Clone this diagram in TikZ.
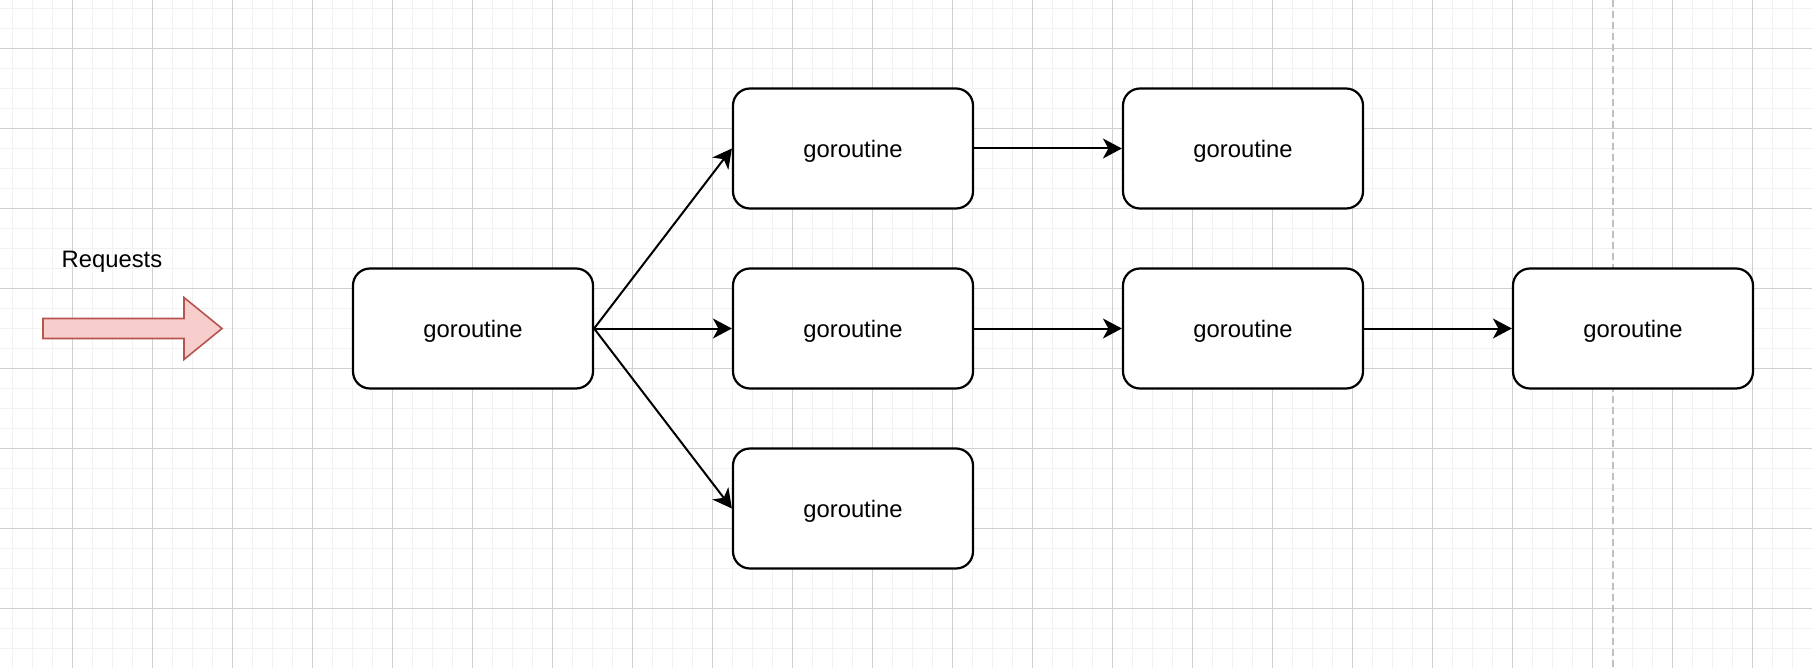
\documentclass[tikz,border=0pt]{standalone}
\usepackage{fontspec}
\setmainfont{Liberation Sans}
\usetikzlibrary{arrows.meta}
\definecolor{gridminor}{HTML}{F2F2F2}
\definecolor{gridmajor}{HTML}{D0D0D0}
\definecolor{dashgray}{HTML}{C0C0C0}
\definecolor{arrfill}{HTML}{F8CECC}
\definecolor{arrline}{HTML}{B85450}
\tikzset{
  gbox/.style={draw=black, fill=white, line width=2.2pt, rounded corners=17pt,
    minimum width=240pt, minimum height=120pt, inner sep=0pt,
    text height=20pt, text depth=2.4pt,
    font=\fontsize{23.8}{28}\selectfont},
  edge/.style={draw=black, line width=2pt, -{Stealth[length=19pt, width=20pt, inset=5.5pt]}},
  lbl/.style={font=\fontsize{23.8}{28}\selectfont, inner sep=0pt,
    text height=20pt, text depth=2pt}
}
\begin{document}
\begin{tikzpicture}[x=1pt, y=-1pt]
\useasboundingbox (0,0) rectangle (1812,668);
\fill[white] (0,0) rectangle (1812,668);
% minor grid
\foreach \gx in {12.5,32.5,...,1812} \draw[gridminor, line width=1.2pt] (\gx,0) -- (\gx,668);
\foreach \gy in {8.5,28.5,...,668} \draw[gridminor, line width=1.2pt] (0,\gy) -- (1812,\gy);
% major grid
\foreach \gx in {72.5,152.5,...,1812} \draw[gridmajor, line width=1.2pt] (\gx,0) -- (\gx,668);
\foreach \gy in {48.5,128.5,...,668} \draw[gridmajor, line width=1.2pt] (0,\gy) -- (1812,\gy);
% dashed guide
\draw[dashgray, line width=2pt, dash pattern=on 7pt off 4pt] (1612.7,0) -- (1612.7,668);
% block arrow
\filldraw[fill=arrfill, draw=arrline, line width=1.6pt]
  (43,318.5) -- (184,318.5) -- (184,297.5) -- (222,328.5) -- (184,359.5) -- (184,338.5) -- (43,338.5) -- cycle;
\node[lbl] (req) at (112,259) {Requests};
% boxes
\node[gbox] (g1) at (473,328.5) {goroutine};
\node[gbox] (g2a) at (853,148.5) {goroutine};
\node[gbox] (g2b) at (853,328.5) {goroutine};
\node[gbox] (g2c) at (853,508.5) {goroutine};
\node[gbox] (g3a) at (1243,148.5) {goroutine};
\node[gbox] (g3b) at (1243,328.5) {goroutine};
\node[gbox] (g4) at (1633,328.5) {goroutine};
% edges
\draw[edge] (g1.east) -- (g2a.west);
\draw[edge] (g1.east) -- (g2b.west);
\draw[edge] (g1.east) -- (g2c.west);
\draw[edge] (g2a.east) -- (g3a.west);
\draw[edge] (g2b.east) -- (g3b.west);
\draw[edge] (g3b.east) -- (g4.west);
\end{tikzpicture}
\end{document}
